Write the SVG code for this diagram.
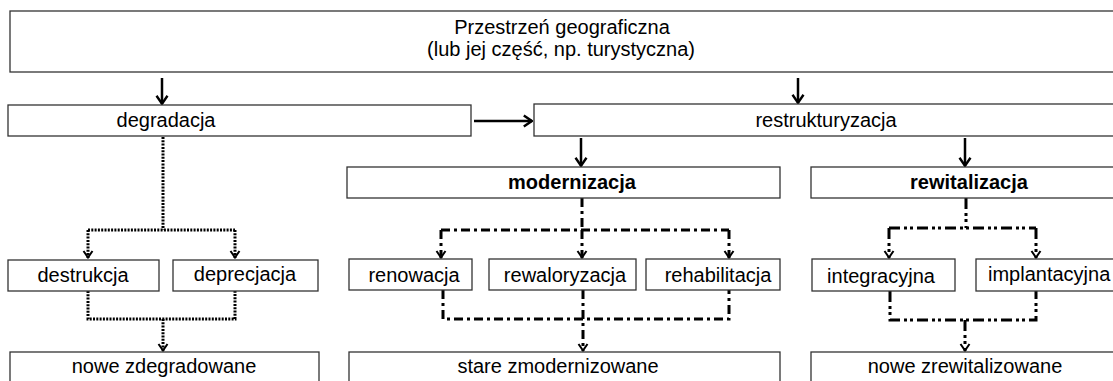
<svg xmlns="http://www.w3.org/2000/svg" width="1113" height="381" viewBox="0 0 1113 381">
<style>
  .box { fill: #ffffff; stroke: #333333; stroke-width: 1.3; }
  text { font-family: "Liberation Sans", Arial, sans-serif; font-size: 20px; fill: #000000; }
  .c { text-anchor: middle; }
  .b { font-weight: bold; }
  .solid { fill: none; stroke: #000000; stroke-width: 2.5; }
  .dot { fill: none; stroke: #000000; stroke-width: 3; stroke-dasharray: 2 1.3; }
  .dd { fill: none; stroke: #000000; stroke-width: 3; stroke-dasharray: 9 4 3 4; }
  .ddd { fill: none; stroke: #000000; stroke-width: 3; stroke-dasharray: 11 4 3 3 3 4; }
  .ah { marker-end: url(#arrowSolid); }
  .av { marker-end: url(#arrowSmall); }
</style>
<defs>
  <marker id="arrowSolid" markerUnits="userSpaceOnUse" viewBox="0 0 10 14" refX="9.2" refY="7" markerWidth="10" markerHeight="14" orient="auto">
    <path d="M1,1.5 L9,7 L1,12.5" fill="none" stroke="#000000" stroke-width="2.4"/>
  </marker>
  <marker id="arrowSmall" markerUnits="userSpaceOnUse" viewBox="0 0 9 12" refX="8" refY="6" markerWidth="9" markerHeight="12" orient="auto">
    <path d="M1,1.5 L7.5,6 L1,10.5" fill="none" stroke="#000000" stroke-width="2"/>
  </marker>
</defs>

<g id="connectors">
  <path class="solid ah" d="M162,78 V104"/>
  <path class="solid ah" d="M798,78 V103"/>
  <path class="solid ah" d="M474,121 H532"/>
  <path class="solid ah" d="M581,138 V166"/>
  <path class="solid ah" d="M965,138 V166"/>

  <path class="dot" d="M163,137 V230"/>
  <path class="dot" d="M88,230 H235"/>
  <path class="dot av" d="M88,230 V258"/>
  <path class="dot av" d="M235,230 V258"/>
  <path class="dot" d="M88,291 V319 H235 V291"/>
  <path class="dot av" d="M163,319 V351"/>

  <path class="dd" d="M582,198 V230"/>
  <path class="dd" d="M441,230 H729"/>
  <path class="dd av" d="M441,230 V258"/>
  <path class="dd av" d="M582,230 V258"/>
  <path class="dd av" d="M729,230 V258"/>
  <path class="dd" d="M443,290 V319 H729 V290"/>
  <path class="dd av" d="M583,290 V351"/>

  <path class="ddd" d="M966,198 V228"/>
  <path class="ddd" d="M889,228 H1036"/>
  <path class="ddd av" d="M889,228 V258"/>
  <path class="ddd av" d="M1036,228 V258"/>
  <path class="ddd" d="M890,291 V320 H1036 V291"/>
  <path class="ddd av" d="M965,320 V351"/>
</g>

<g id="przestrzen">
  <rect class="box" x="10" y="11" width="1106" height="61"/>
  <text class="c" x="562" y="34">Przestrzeń geograficzna</text>
  <text class="c" x="561" y="56">(lub jej część, np. turystyczna)</text>
</g>
<g id="degradacja">
  <rect class="box" x="8" y="105" width="463" height="31"/>
  <text class="c" x="166" y="127">degradacja</text>
</g>
<g id="restrukturyzacja">
  <rect class="box" x="534" y="104" width="585" height="32"/>
  <text class="c" x="826" y="127">restrukturyzacja</text>
</g>
<g id="modernizacja">
  <rect class="box" x="347" y="167" width="433" height="31"/>
  <text class="c b" x="572" y="189">modernizacja</text>
</g>
<g id="rewitalizacja">
  <rect class="box" x="811" y="167" width="310" height="31"/>
  <text class="c b" x="969" y="189">rewitalizacja</text>
</g>
<g id="destrukcja">
  <rect class="box" x="8" y="260" width="151" height="31"/>
  <text class="c" x="83" y="282">destrukcja</text>
</g>
<g id="deprecjacja">
  <rect class="box" x="173" y="260" width="145" height="31"/>
  <text class="c" x="245" y="281">deprecjacja</text>
</g>
<g id="renowacja">
  <rect class="box" x="349" y="259" width="123" height="31"/>
  <text class="c" x="414" y="282">renowacja</text>
</g>
<g id="rewaloryzacja">
  <rect class="box" x="489" y="259" width="147" height="31"/>
  <text class="c" x="565" y="282">rewaloryzacja</text>
</g>
<g id="rehabilitacja">
  <rect class="box" x="646" y="259" width="134" height="31"/>
  <text class="c" x="718" y="282">rehabilitacja</text>
</g>
<g id="integracyjna">
  <rect class="box" x="812" y="259" width="143" height="32"/>
  <text class="c" x="881" y="283">integracyjna</text>
</g>
<g id="implantacyjna">
  <rect class="box" x="976" y="259" width="150" height="32"/>
  <text x="988" y="281">implantacyjna</text>
</g>
<g id="nowe-zdegradowane">
  <rect class="box" x="10" y="352" width="309" height="40"/>
  <text class="c" x="164" y="373">nowe zdegradowane</text>
</g>
<g id="stare-zmodernizowane">
  <rect class="box" x="349" y="352" width="431" height="40"/>
  <text class="c" x="558" y="373">stare zmodernizowane</text>
</g>
<g id="nowe-zrewitalizowane">
  <rect class="box" x="811" y="352" width="310" height="40"/>
  <text class="c" x="965" y="373">nowe zrewitalizowane</text>
</g>
</svg>
